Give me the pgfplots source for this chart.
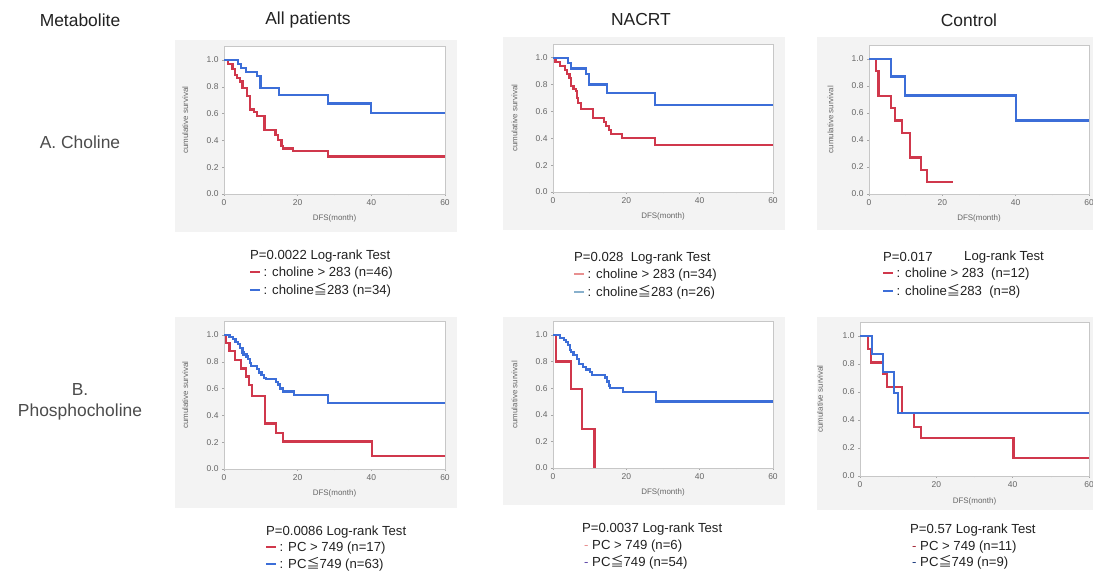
\documentclass[border=0pt]{standalone}
\usepackage{pgfplots}
\pgfplotsset{compat=1.18}
\usepackage{fontspec}
\setmainfont{Liberation Sans}
\newfontfamily\jp{Noto Sans CJK JP}
\definecolor{kmred}{HTML}{D0384C}
\definecolor{kmblue}{HTML}{3C6ED8}
\definecolor{panel}{HTML}{F3F3F3}
\definecolor{lred}{HTML}{E89090}
\definecolor{lblue}{HTML}{88B0CC}
\definecolor{txt}{HTML}{222222}
\newcommand{\lgfont}{\fontsize{13.2}{15}\selectfont}
\newcommand{\ttl}{\fontsize{17.5}{20}\selectfont}
\newcommand{\kmdash}[1]{\textcolor{#1}{\rule[0.28em]{0.75em}{0.13em}}}
\newcommand{\lejp}{{\jp ≦}}
\pgfplotsset{
 km/.style={
  scale only axis, anchor=south west,
  xmin=0,xmax=60,ymin=0,ymax=1.1,
  xtick={0,20,40,60}, ytick={0,0.2,0.4,0.6,0.8,1.0},
  minor xtick={10,30,50},
  xtick pos=lower, ytick pos=left,
  axis background/.style={fill=white},
  axis line style={draw=black!22, line width=0.6bp},
  tick style={draw=black!35, line width=0.5bp},
  major tick length=2bp, minor tick length=1.5bp,
  tick align=outside,
  /pgf/number format/assume math mode=true,
  xticklabel style={font=\fontsize{8.5}{9}\selectfont, text=black!60},
  yticklabel style={font=\fontsize{8.5}{9}\selectfont, text=black!60, /pgf/number format/.cd, fixed, fixed zerofill, precision=1},
  xlabel={DFS(month)}, ylabel={cumulative survival},
  xlabel style={font=\fontsize{8}{9}\selectfont, text=black!60, at={(axis description cs:0.5,-0.165)}, anchor=center},
  ylabel style={font=\fontsize{8}{9}\selectfont, text=black!60, at={(axis description cs:-0.175,0.5)}, anchor=center},
  every axis plot/.append style={const plot, line width=2.2bp, mark=none, line join=miter},
 }
}
\begin{document}
\begin{tikzpicture}
\useasboundingbox (0,0) rectangle (1093bp,575bp);
\clip (0,0) rectangle (1093bp,575bp);
\fill[white] (0,0) rectangle (1093bp,575bp);
% panel backgrounds (image y -> 575-y)
\fill[panel] (175bp,343bp) rectangle (457bp,535bp);
\fill[panel] (503bp,345bp) rectangle (785bp,538bp);
\fill[panel] (817bp,345bp) rectangle (1093bp,538bp);
\fill[panel] (175bp,67bp) rectangle (457bp,258bp);
\fill[panel] (503bp,70bp) rectangle (785bp,258bp);
\fill[panel] (817bp,65bp) rectangle (1093bp,258bp);
% titles
\node[font=\ttl, text=txt] at (80bp,555bp) {Metabolite};
\node[font=\ttl, text=txt] at (308bp,555bp) {All patients};
\node[font=\ttl, text=txt] at (641bp,555bp) {NACRT};
\node[font=\ttl, text=txt] at (969bp,555bp) {Control};
\node[font=\ttl, text=black!70] at (80bp,433bp) {A. Choline};
\node[font=\ttl, text=black!70] at (80bp,185bp) {B.};
\node[font=\ttl, text=black!70] at (80bp,163bp) {Phosphocholine};

% ---------- Panel 1: All patients, choline
\begin{axis}[km, at={(224bp,381bp)}, width=221bp, height=147.4bp]
\addplot[kmred] coordinates {(0,1) (1.1,0.97) (2.3,0.93) (2.9,0.89) (3.6,0.868) (4.4,0.84) (5,0.79) (6.3,0.73) (7,0.63) (8.1,0.61) (9,0.58) (11,0.48) (14,0.44) (14.7,0.40) (15.6,0.36) (16,0.34) (18.8,0.32) (28.3,0.28) (60,0.28)};
\addplot[kmblue] coordinates {(0,1) (3.8,0.97) (4.7,0.94) (5.9,0.91) (9,0.88) (9.9,0.79) (15,0.74) (28.3,0.675) (40,0.605) (60,0.605)};
\end{axis}
% ---------- Panel 2: NACRT, choline
\begin{axis}[km, at={(553bp,383bp)}, width=220bp, height=147.7bp]
\addplot[kmred] coordinates {(0,1) (0.7,0.97) (1.8,0.94) (3.2,0.91) (3.9,0.88) (4.5,0.85) (5,0.79) (5.6,0.77) (6.2,0.75) (6.6,0.70) (6.9,0.66) (7.7,0.62) (10.9,0.55) (13.8,0.52) (14.5,0.49) (15.3,0.46) (15.9,0.43) (18.9,0.40) (27.8,0.35) (60,0.35)};
\addplot[kmblue] coordinates {(0,1) (4.1,0.96) (4.8,0.92) (8.9,0.88) (9.8,0.80) (14.7,0.74) (27.8,0.645) (60,0.645)};
\end{axis}
% ---------- Panel 3: Control, choline
\begin{axis}[km, at={(869bp,381bp)}, width=220bp, height=148.5bp]
\addplot[kmred] coordinates {(0,1) (1.8,0.91) (2.6,0.725) (6.1,0.635) (7,0.545) (9,0.45) (11.1,0.27) (14.1,0.18) (15.9,0.09) (22.8,0.09)};
\addplot[kmblue] coordinates {(0,1) (6.1,0.87) (9.9,0.73) (40.1,0.545) (60,0.545)};
\end{axis}
% ---------- Panel 4: All patients, PC
\begin{axis}[km, at={(224bp,106bp)}, width=221bp, height=147.4bp]
\addplot[kmred] coordinates {(0,1) (0.6,0.94) (1.5,0.88) (2.9,0.815) (4.7,0.75) (5.9,0.69) (6.8,0.627) (7.7,0.545) (11.1,0.34) (14.1,0.267) (16,0.205) (40.1,0.097) (60,0.097)};
\addplot[kmblue] coordinates {(0,1) (1.5,0.984) (2.4,0.968) (3.1,0.95) (3.8,0.935) (4.4,0.90) (5,0.87) (5.3,0.855) (6.1,0.84) (6.5,0.818) (7,0.79) (7.4,0.77) (9,0.745) (9.4,0.72) (10.2,0.70) (10.9,0.68) (11.5,0.67) (14.1,0.65) (14.7,0.63) (15.3,0.60) (16,0.578) (19,0.552) (28.3,0.49) (60,0.49)};
\end{axis}
% ---------- Panel 5: NACRT, PC
\begin{axis}[km, at={(553bp,107bp)}, width=220bp, height=146.3bp]
\addplot[kmred] coordinates {(0,1) (0.9,0.80) (5,0.595) (7.9,0.296) (11.3,0) (11.3,0)};
\addplot[kmblue] coordinates {(0,1) (1.8,0.98) (2.9,0.96) (3.6,0.945) (4.1,0.925) (4.7,0.89) (5,0.87) (5.6,0.85) (6.5,0.82) (7,0.78) (8.2,0.76) (9.1,0.74) (10,0.72) (10.7,0.70) (14.1,0.68) (14.7,0.65) (15.2,0.62) (15.6,0.60) (19.1,0.57) (28,0.50) (60,0.50)};
\end{axis}
% ---------- Panel 6: Control, PC
\begin{axis}[km, at={(860bp,99bp)}, width=229bp, height=154bp]
\addplot[kmred] coordinates {(0,1) (2,0.905) (2.9,0.81) (6.1,0.73) (7,0.638) (11.1,0.448) (14.1,0.352) (16,0.27) (40.2,0.126) (60,0.126)};
\addplot[kmblue] coordinates {(0,1) (3.1,0.87) (6.1,0.745) (8.9,0.595) (10,0.448) (60,0.448)};
\end{axis}

% ---------- legends
\begin{scope}[every node/.style={anchor=west, font=\lgfont, text=txt, inner sep=0pt}]
\node at (250bp,319bp) {P=0.0022 Log-rank Test};
\node at (250bp,302bp) {\kmdash{kmred} : choline > 283 (n=46)};
\node at (250bp,285bp) {\kmdash{kmblue} : choline\lejp283 (n=34)};
\node at (574bp,317bp) {P=0.028\ \ Log-rank Test};
\node at (574bp,300bp) {\kmdash{lred} : choline > 283 (n=34)};
\node at (574bp,283bp) {\kmdash{lblue} : choline\lejp283 (n=26)};
\node at (883bp,318bp) {P=0.017};
\node at (964bp,318bp) {Log-rank Test};
\node at (883bp,301bp) {\kmdash{kmred} : choline > 283\ \ (n=12)};
\node at (883bp,284bp) {\kmdash{kmblue} : choline\lejp283\ \ (n=8)};
\node at (266bp,43bp) {P=0.0086 Log-rank Test};
\node at (266bp,27bp) {\kmdash{kmred} : PC > 749 (n=17)};
\node at (266bp,11bp) {\kmdash{kmblue} : PC\lejp749 (n=63)};
\node at (582bp,46bp) {P=0.0037 Log-rank Test};
\node at (584bp,29bp) {\textcolor{lred}{-} PC > 749 (n=6)};
\node at (584bp,13bp) {\textcolor{kmblue!70!purple}{-} PC\lejp749 (n=54)};
\node at (910bp,45bp) {P=0.57 Log-rank Test};
\node at (912bp,28bp) {\textcolor{kmred!80!black}{-} PC > 749 (n=11)};
\node at (912bp,13bp) {\textcolor{kmblue!60!black}{-} PC\lejp749 (n=9)};
\end{scope}
\end{tikzpicture}
\end{document}
